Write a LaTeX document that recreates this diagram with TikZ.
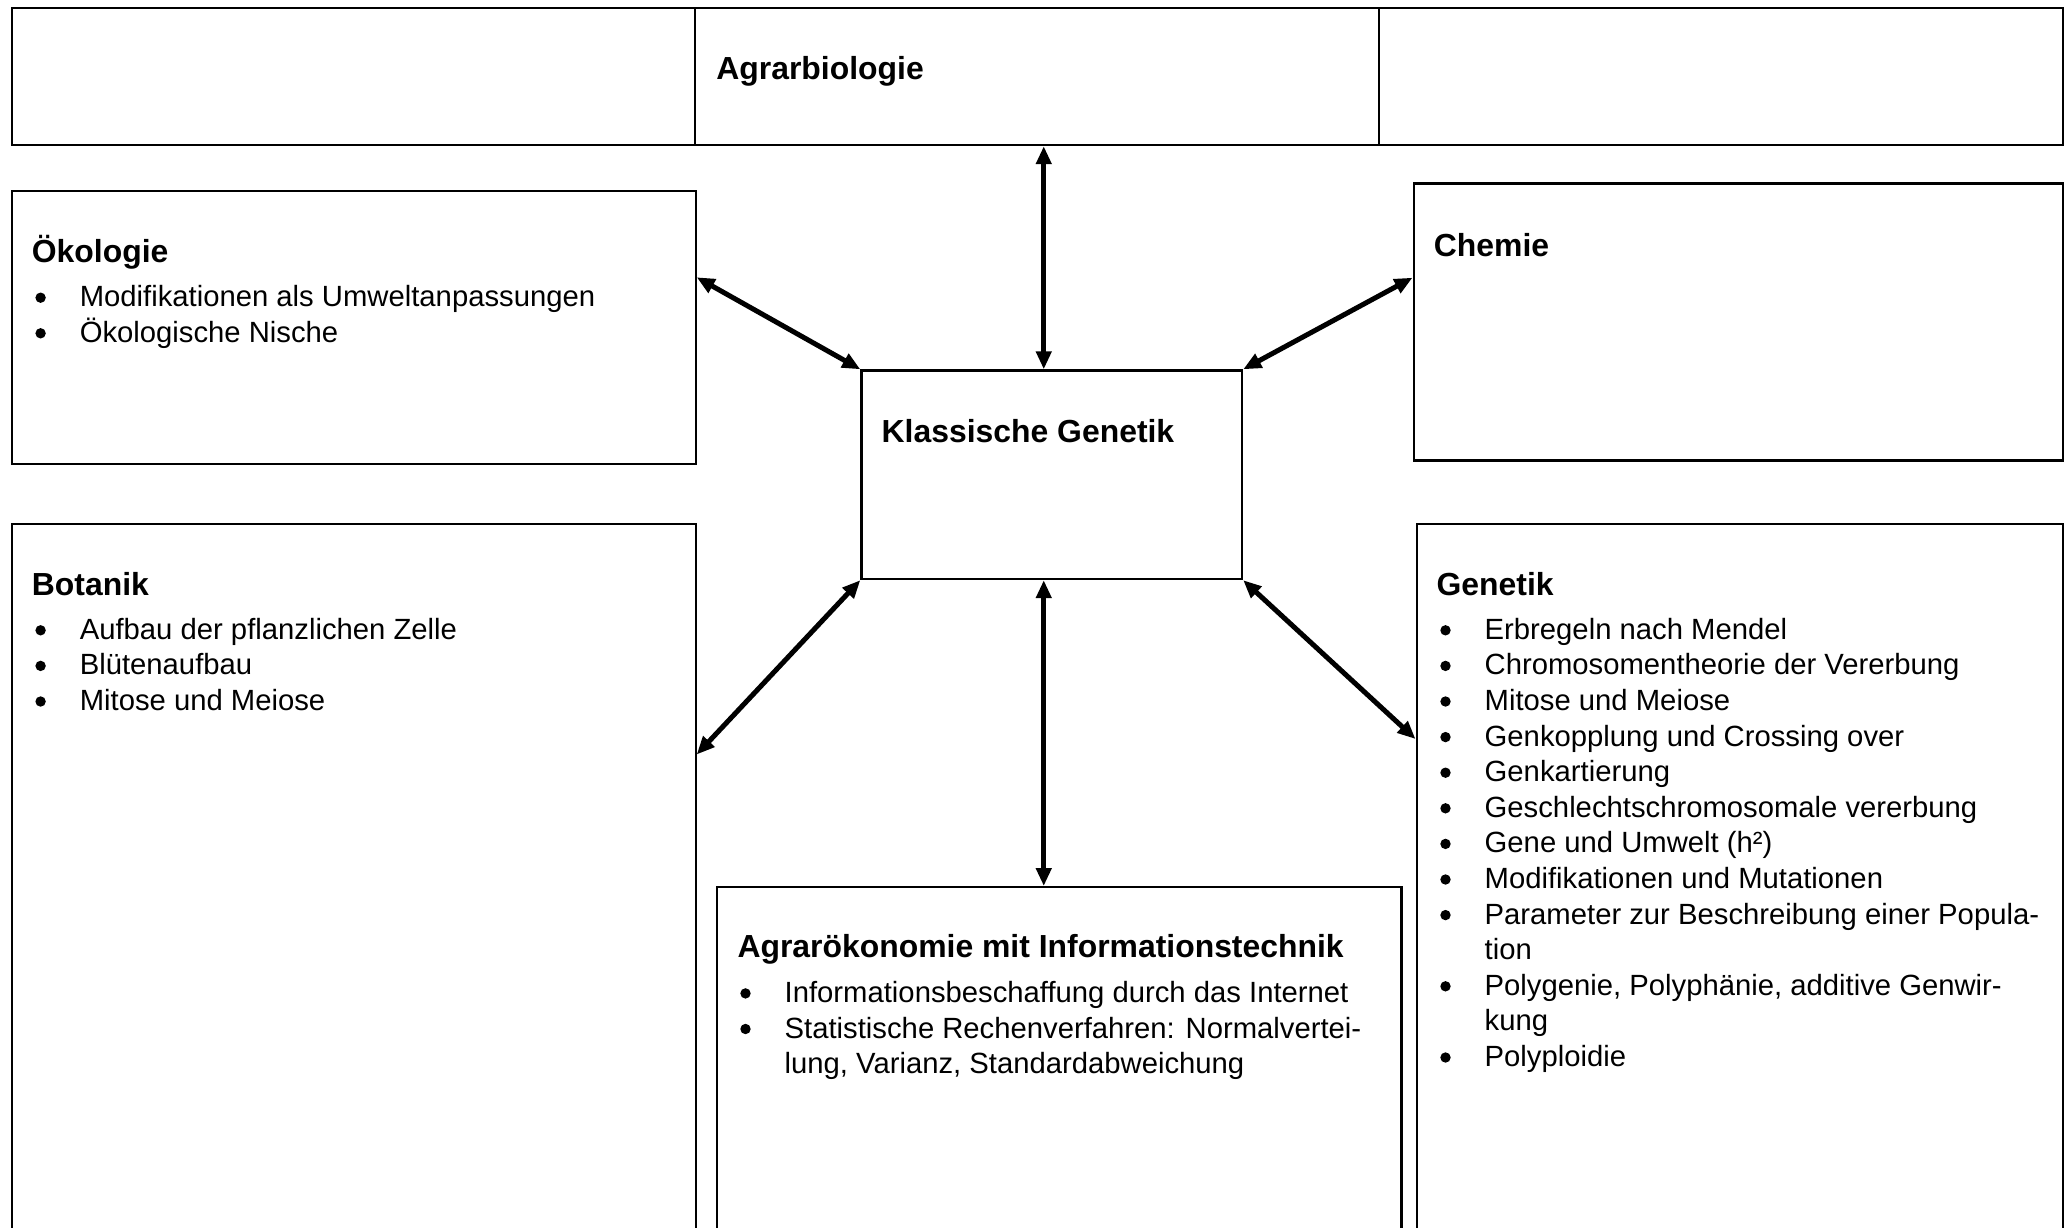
\documentclass[tikz,border=0pt]{standalone}
\usepackage{fontspec}
\setmainfont{Liberation Sans}
\usetikzlibrary{arrows.meta}

% one list entry: bullet dot plus its text line
\newcommand\listentry[4]{%
  \fill (#2-39,#3-9) circle (5.2);
  \node[bodytext] (#1) at (#2,#3) {#4};}
% a wrapped continuation line without bullet
\newcommand\listcont[4]{%
  \node[bodytext] (#1) at (#2,#3) {#4};}

\begin{document}
\begin{tikzpicture}[x=1pt,y=-1pt,
  panel/.style={draw, line width=2.2pt, rectangle, inner sep=0pt, anchor=north west},
  heading/.style={anchor=base west, inner sep=0pt, font=\fontsize{31.9}{38}\selectfont\bfseries},
  bodytext/.style={anchor=base west, inner sep=0pt, font=\fontsize{29.25}{35.6}\selectfont},
  link/.style={line width=5pt, {Triangle[length=18pt,width=15pt]}-{Triangle[length=18pt,width=15pt]}}
]
\useasboundingbox (0,0) rectangle (2072,1228);
\fill[white] (0,0) rectangle (2072,1228);
\clip (0,0) rectangle (2072,1228);

% header row with three cells
\node[panel, minimum width=683.1pt, minimum height=137pt] (rowleft) at (10.6,7) {};
\node[panel, minimum width=684.3pt, minimum height=137pt] (agrar) at (693.7,7) {};
\node[panel, minimum width=683.5pt, minimum height=137pt] (rowright) at (1378,7) {};
\node[heading] (agrarT) at (716.2,80) {Agrarbiologie};

% surrounding subject boxes
\node[panel, minimum width=683.9pt, minimum height=272.5pt] (oeko) at (10.6,190) {};
\node[panel, minimum width=649.5pt, minimum height=277pt] (chemie) at (1412.5,182.3) {};
\node[panel, minimum width=380.7pt, minimum height=208.7pt] (kg) at (860.3,369.3) {};
\node[panel, minimum width=683.9pt, minimum height=730pt] (botanik) at (10.6,522.5) {};
\node[panel, minimum width=646.5pt, minimum height=730pt] (genetik) at (1415.5,522.5) {};
\node[panel, minimum width=684.8pt, minimum height=380pt] (agraroek) at (715.5,886) {};

% Ökologie
\node[heading] (oekoT) at (31.7,262) {Ökologie};
\listentry{oeko1}{79.6}{306.7}{Modifikationen als Umweltanpassungen}
\listentry{oeko2}{79.6}{342.3}{Ökologische Nische}

% Chemie
\node[heading] (chemieT) at (1433.7,256) {Chemie};

% Klassische Genetik
\node[heading] (kgT) at (881.5,442) {Klassische Genetik};

% Botanik
\node[heading] (botanikT) at (31.7,595) {Botanik};
\listentry{bot1}{79.6}{639.3}{Aufbau der pflanzlichen Zelle}
\listentry{bot2}{79.6}{674.9}{Blütenaufbau}
\listentry{bot3}{79.6}{710.5}{Mitose und Meiose}

% Genetik
\node[heading] (genetikT) at (1436.4,595) {Genetik};
\listentry{gen1}{1484.5}{639.3}{Erbregeln nach Mendel}
\listentry{gen2}{1484.5}{674.9}{Chromosomentheorie der Vererbung}
\listentry{gen3}{1484.5}{710.5}{Mitose und Meiose}
\listentry{gen4}{1484.5}{746.1}{Genkopplung und Crossing over}
\listentry{gen5}{1484.5}{781.7}{Genkartierung}
\listentry{gen6}{1484.5}{817.3}{Geschlechtschromosomale vererbung}
\listentry{gen7}{1484.5}{852.9}{Gene und Umwelt (h²)}
\listentry{gen8}{1484.5}{888.5}{Modifikationen und Mutationen}
\listentry{gen9}{1484.5}{924.1}{Parameter zur Beschreibung einer Popula-}
\listcont{gen9b}{1484.5}{959.7}{tion}
\listentry{gen10}{1484.5}{995.3}{Polygenie, Polyphänie, additive Genwir-}
\listcont{gen10b}{1484.5}{1030.9}{kung}
\listentry{gen11}{1484.5}{1066.5}{Polyploidie}

% Agrarökonomie mit Informationstechnik
\node[heading] (agraroekT) at (737.3,957.5) {Agrarökonomie mit Informationstechnik};
\listentry{ak1}{784.5}{1002.4}{Informationsbeschaffung durch das Internet}
\listentry{ak2}{784.5}{1038}{Statistische Rechenverfahren: Normalvertei-}
\listcont{ak2b}{784.5}{1073.6}{lung, Varianz, Standardabweichung}

% connectors
\coordinate (kgtop) at ([xshift=-8pt]kg.north);
\coordinate (kgbot) at ([xshift=-8pt]kg.south);
\draw[link] (kgtop |- agrar.south) -- (kgtop);
\draw[link] (kgbot) -- (kgbot |- agraroek.north);
\draw[link] ([yshift=-87.3pt]oeko.north east) -- (kg.north west);
\draw[link] ([yshift=-95.4pt]chemie.north west) -- (kg.north east);
\draw[link] ([yshift=-232pt]botanik.north east) -- (kg.south west);
\draw[link] ([yshift=-216.5pt]genetik.north west) -- (kg.south east);
\end{tikzpicture}
\end{document}
